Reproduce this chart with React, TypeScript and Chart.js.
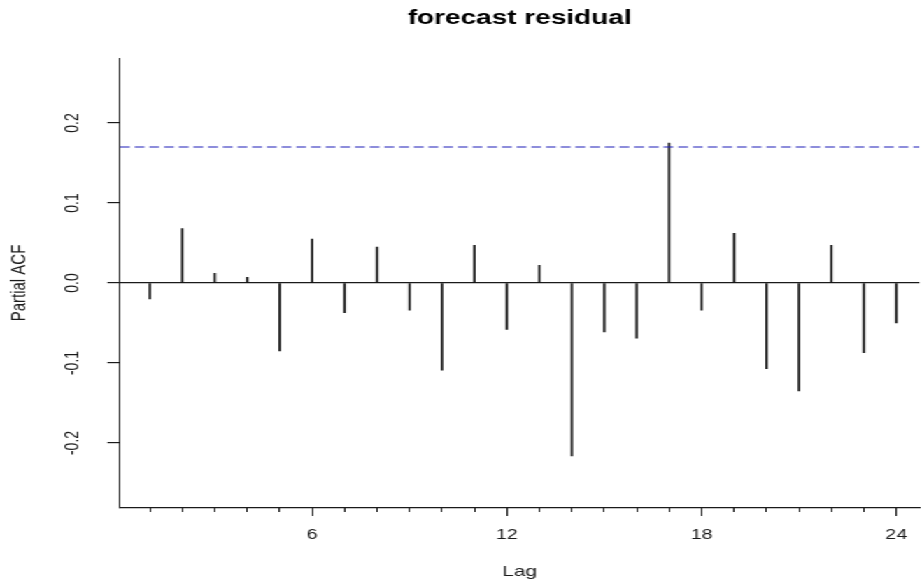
import React, { useEffect, useRef } from 'react';
import { Chart, registerables } from 'chart.js';

Chart.register(...registerables);

// ---- data ----
const lags = [1, 2, 3, 4, 5, 6, 7, 8, 9, 10, 11, 12, 13, 14, 15, 16, 17, 18, 19, 20, 21, 22, 23, 24];
const pacfValues = [
  -0.020, 0.068, 0.012, 0.007, -0.085, 0.055, -0.037, 0.045, -0.034, -0.109, 0.047, -0.058,
  0.022, -0.216, -0.061, -0.069, 0.175, -0.034, 0.062, -0.107, -0.135, 0.047, -0.087, -0.050,
];
const confLimit = 0.17;
const xMajorTicks = [6, 12, 18, 24];
const yTicks = [-0.2, -0.1, 0.0, 0.1, 0.2];
const xRange = [0.08, 24.71];
const yRange = [-0.28125, 0.28125];
const titleText = 'forecast residual';
const xTitle = 'Lag';
const yTitle = 'Partial ACF';

// ---- layout (the reference is a horizontally stretched R plot) ----
const OUT_W = 922;
const OUT_H = 583;
const BASE_W = 659;
const STRETCH = OUT_W / BASE_W;
const FONT = '"Liberation Sans", Arial, Helvetica, sans-serif';
const INK = '#1a1a1a';

export default function App() {
  const canvasRef = useRef<HTMLCanvasElement | null>(null);

  useEffect(() => {
    document.body.style.margin = '0';
    document.body.style.overflow = 'hidden';
    const canvas = canvasRef.current;
    if (!canvas) return;

    const chart = new Chart(canvas, {
      type: 'bar',
      data: {
        datasets: [
          {
            type: 'line',
            data: [
              { x: xRange[0], y: confLimit },
              { x: xRange[1], y: confLimit },
            ],
            borderColor: '#1c1cb8',
            borderWidth: 1.2,
            borderDash: [7, 3.5],
            pointRadius: 0,
            fill: false,
            xAxisID: 'x',
            yAxisID: 'y',
            order: 1,
          } as any,
          {
            type: 'bar',
            data: lags.map((l, i) => ({ x: l, y: pacfValues[i] })),
            backgroundColor: '#111',
            borderWidth: 0,
            barThickness: 1,
            xAxisID: 'x',
            yAxisID: 'y',
            order: 2,
          } as any,
        ],
      },
      options: {
        responsive: true,
        maintainAspectRatio: false,
        animation: false,
        layout: { padding: 0 },
        plugins: {
          legend: { display: false },
          tooltip: { enabled: false },
          title: {
            display: true,
            text: titleText,
            fullSize: false,
            color: '#000',
            font: { family: FONT, size: 20, weight: 'bold' },
            padding: { top: 6, bottom: 28 },
          },
        },
        scales: {
          xMinor: {
            type: 'linear',
            position: 'bottom',
            weight: 0,
            min: xRange[0],
            max: xRange[1],
            offset: false,
            afterBuildTicks: (s: any) => {
              s.ticks = lags.map((v) => ({ value: v }));
            },
            afterFit: (s: any) => {
              s.height = 0;
            },
            grid: { drawOnChartArea: false, drawTicks: true, tickLength: 4, color: INK, offset: false },
            border: { display: false },
            ticks: { display: false },
          },
          x: {
            type: 'linear',
            position: 'bottom',
            weight: 1,
            min: xRange[0],
            max: xRange[1],
            offset: false,
            afterBuildTicks: (s: any) => {
              s.ticks = xMajorTicks.map((v) => ({ value: v }));
            },
            afterFit: (s: any) => {
              s.height = 75;
            },
            grid: { drawOnChartArea: false, drawTicks: true, tickLength: 8, color: INK, offset: false },
            border: { display: true, color: INK, width: 1.2 },
            ticks: {
              autoSkip: false,
              maxRotation: 0,
              minRotation: 0,
              padding: 10.5,
              color: INK,
              font: { family: FONT, size: 14 },
              callback: (v: any) => String(v),
            },
            title: {
              display: true,
              text: xTitle,
              color: INK,
              font: { family: FONT, size: 15 },
              padding: { top: 0, bottom: 2 },
            },
          },
          y: {
            type: 'linear',
            position: 'left',
            min: yRange[0],
            max: yRange[1],
            afterBuildTicks: (s: any) => {
              s.ticks = yTicks.map((v) => ({ value: v }));
            },
            afterFit: (s: any) => {
              s.width = 120 / STRETCH;
            },
            grid: {
              drawOnChartArea: true,
              drawTicks: true,
              tickLength: 9,
              tickColor: INK,
              color: (ctx: any) => (ctx.tick && ctx.tick.value === 0 ? INK : 'rgba(0,0,0,0)'),
              lineWidth: 1.2,
            },
            border: { display: true, color: INK, width: 1 },
            ticks: {
              minRotation: 90,
              maxRotation: 90,
              crossAlign: 'center',
              padding: 13,
              color: INK,
              font: { family: FONT, size: 14 },
              callback: (v: any) => Number(v).toFixed(1),
            },
            title: {
              display: true,
              text: yTitle,
              color: INK,
              font: { family: FONT, size: 15 },
              padding: { top: 4.5, bottom: 0 },
            },
          },
        },
      } as any,
    });

    return () => chart.destroy();
  }, []);

  return (
    <div
      style={{
        width: BASE_W + 'px',
        height: OUT_H + 'px',
        position: 'relative',
        transform: `scaleX(${STRETCH})`,
        transformOrigin: '0 0',
        background: '#fff',
      }}
    >
      <canvas ref={canvasRef} />
    </div>
  );
}
